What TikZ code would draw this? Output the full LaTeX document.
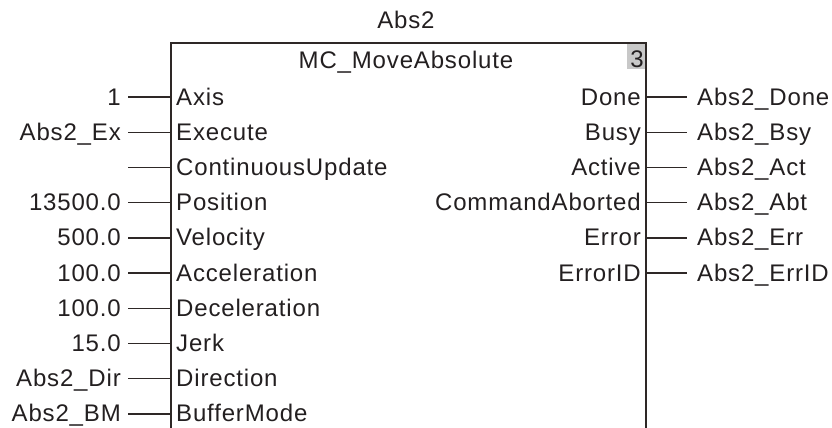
\documentclass[tikz,border=0pt]{standalone}
\usepackage{fontspec}
\setmainfont[LetterSpace=3.5]{Liberation Sans}
\definecolor{ln}{HTML}{2E2826}
\definecolor{tx}{HTML}{231F20}
\definecolor{gr}{HTML}{C8C8C8}
\begin{document}
\begin{tikzpicture}[x=1pt,y=-1pt,
  lab/.style={inner sep=0pt,text=tx,font=\fontsize{24}{28}\selectfont},
  inl/.style={lab,anchor=base east},
  pinl/.style={lab,anchor=base west},
  pinr/.style={lab,anchor=base east},
  outl/.style={lab,anchor=base west},
  wire/.style={draw=ln,line width=1.4pt},
  boxline/.style={draw=ln,line width=2pt}]
\useasboundingbox (0,0) rectangle (832,428);
% block
\fill[gr] (627,43) rectangle (646,69);
\node[lab,anchor=base east] (num) at (644,67) {3};
\draw[boxline] (171,428) -- (171,43) -- (646,43) -- (646,428);
\node[lab,anchor=base] (inst) at (406,29) {Abs2};
\node[lab,anchor=base] (fb) at (406,69) {MC\_MoveAbsolute};
% inputs
\foreach \i/\v/\p [count=\k from 0] in {1/1/Axis,2/Abs2\_Ex/Execute,3//ContinuousUpdate,4/13500.0/Position,5/500.0/Velocity,6/100.0/Acceleration,7/100.0/Deceleration,8/15.0/Jerk,9/Abs2\_Dir/Direction,10/Abs2\_BM/BufferMode}{
  \pgfmathsetmacro{\yy}{97+35.2*\k}
  \node[inl] (in\i) at (121,\yy+8) {\v};
  \node[pinl] (pi\i) at (176,\yy+8) {\p};
  \coordinate (ia\i) at (128,\yy);
  \coordinate (ib\i) at (171,\yy);
  \draw[wire] (ia\i) -- (ib\i);
}
% outputs
\foreach \i/\p/\v [count=\k from 0] in {1/Done/Abs2\_Done,2/Busy/Abs2\_Bsy,3/Active/Abs2\_Act,4/CommandAborted/Abs2\_Abt,5/Error/Abs2\_Err,6/ErrorID/Abs2\_ErrID}{
  \pgfmathsetmacro{\yy}{97+35.2*\k}
  \node[pinr] (po\i) at (641,\yy+8) {\p};
  \node[outl] (out\i) at (697,\yy+8) {\v};
  \coordinate (oa\i) at (646,\yy);
  \coordinate (ob\i) at (687,\yy);
  \draw[wire] (oa\i) -- (ob\i);
}
\end{tikzpicture}
\end{document}
